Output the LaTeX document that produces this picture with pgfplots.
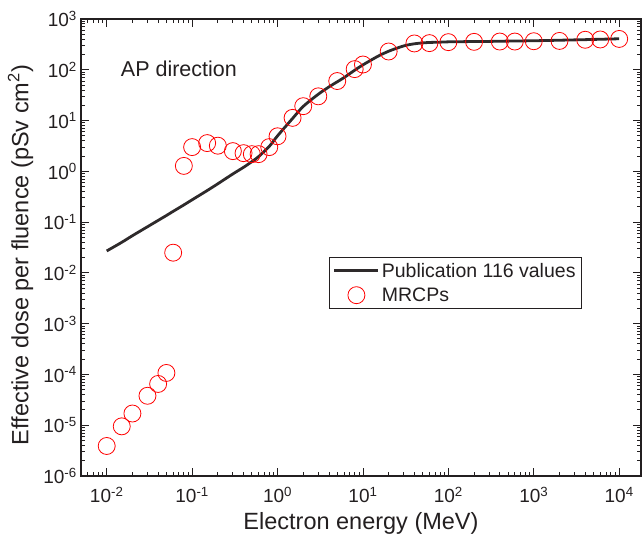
\documentclass[border=0pt]{standalone}
\usepackage{fontspec}
\setmainfont{Liberation Sans}
\usepackage{pgfplots}
\pgfplotsset{compat=1.18}
\definecolor{txt}{HTML}{231F20}
\pgfplotsset{
  lineleg/.style={legend image code/.code={\draw[##1] (0cm,0cm) -- (1.55cm,0cm);}},
  markleg/.style={legend image code/.code={\draw[mark repeat=1,mark phase=1,##1] plot coordinates {(0.775cm,0cm)};}},
}
\begin{document}
\begin{tikzpicture}
\begin{axis}[
  scale only axis, width=560pt, height=457pt,
  xmode=log, ymode=log, log basis x=10, log basis y=10,
  xmin=5e-3, xmax=1.8e4, ymin=1e-6, ymax=1e3,
  xtick={1e-2,1e-1,1,10,100,1000,10000},
  ytick={1e-6,1e-5,1e-4,1e-3,1e-2,1e-1,1,10,100,1000},
  minor xtick={0.006,0.007,0.008,0.009,
    0.02,0.03,0.04,0.05,0.06,0.07,0.08,0.09,
    0.2,0.3,0.4,0.5,0.6,0.7,0.8,0.9,
    2,3,4,5,6,7,8,9,20,30,40,50,60,70,80,90,
    200,300,400,500,600,700,800,900,2000,3000,4000,5000,6000,7000,8000,9000},
  minor ytick={2e-6,3e-6,4e-6,5e-6,6e-6,7e-6,8e-6,9e-6,
    2e-5,3e-5,4e-5,5e-5,6e-5,7e-5,8e-5,9e-5,
    2e-4,3e-4,4e-4,5e-4,6e-4,7e-4,8e-4,9e-4,
    2e-3,3e-3,4e-3,5e-3,6e-3,7e-3,8e-3,9e-3,
    0.02,0.03,0.04,0.05,0.06,0.07,0.08,0.09,
    0.2,0.3,0.4,0.5,0.6,0.7,0.8,0.9,
    2,3,4,5,6,7,8,9,20,30,40,50,60,70,80,90,
    200,300,400,500,600,700,800,900},
  xticklabel={\pgfmathtruncatemacro\e{round(\tick)}10\textsuperscript{\e}},
  yticklabel={\pgfmathtruncatemacro\e{round(\tick)}10\textsuperscript{\e}},
  tick label style={font=\fontsize{19}{22}\selectfont, color=txt},
  xticklabel style={anchor=base, yshift=-27pt},
  yticklabel style={inner sep=2pt, xshift=-2pt},
  xlabel={Electron energy (MeV)},
  ylabel={Effective dose per fluence (pSv cm\textsuperscript{2})},
  xlabel style={font=\fontsize{23.5}{26}\selectfont, color=txt,
    at={(axis description cs:0.5,-0.118)}, anchor=base},
  ylabel style={font=\fontsize{23.5}{26}\selectfont, color=txt,
    at={(axis description cs:-0.108,0.4836)}, anchor=center, rotate=0},
  major tick length=8pt, minor tick length=4pt,
  axis line style={line width=1.3pt, color=txt},
  every tick/.style={line width=0.9pt, color=txt},
  legend style={at={(0.443,0.479)}, anchor=north west, draw=txt, line width=0.8pt,
    font=\fontsize{19.5}{22}\selectfont, text=txt, inner sep=3.5pt,
    nodes={inner sep=2pt}, row sep=5pt},
  legend cell align=left,
]
\addplot[line width=2.8pt, color=txt!95, smooth, lineleg]
coordinates {
(0.01,0.027) (0.015,0.040) (0.02,0.054) (0.03,0.081) (0.04,0.108) (0.05,0.135)
(0.06,0.163) (0.08,0.218) (0.1,0.275) (0.15,0.418) (0.2,0.569) (0.3,0.889)
(0.4,1.2) (0.5,1.55) (0.6,1.95) (0.8,3.1) (1,5.0) (1.5,11) (2,19) (3,33)
(4,46) (5,58) (6,70) (8,98) (10,125) (15,185) (20,232) (30,295) (40,325)
(50,338) (60,345) (80,350) (100,355) (150,358) (200,360) (300,362) (400,365)
(500,367) (600,368) (800,371) (1000,373) (1500,378) (2000,382) (3000,388)
(4000,392) (5000,396) (6000,399) (8000,404) (10000,408)
};
\addlegendentry{Publication 116 values}
\addplot[only marks, mark=o, mark size=8.5pt, color=red, mark options={line width=0.8pt}, markleg]
coordinates {
(0.01,3.9e-6) (0.015,9.5e-6) (0.02,1.7e-5) (0.03,3.8e-5) (0.04,6.5e-5) (0.05,1.07e-4)
(0.06,0.025) (0.08,1.28) (0.1,3.0) (0.15,3.6) (0.2,3.2) (0.3,2.5) (0.4,2.28)
(0.5,2.18) (0.6,2.18) (0.8,3.0) (1,4.9) (1.5,11.3) (2,19.2) (3,30) (5,60) (8,103)
(10,127) (20,229) (40,330) (60,335) (100,350) (200,355) (400,360) (600,360)
(1000,365) (2000,370) (4000,390) (6000,395) (10000,405)
};
\addlegendentry{MRCPs}
\node[anchor=base west, inner sep=0pt, font=\fontsize{21.5}{24}\selectfont, text=txt] at (axis cs:0.0146,72.8) {AP direction};
\coordinate (sw) at (rel axis cs:0,0);
\coordinate (ne) at (rel axis cs:1,1);
\end{axis}
\pgfresetboundingbox
\path ([shift={(-81pt,-60pt)}]sw) rectangle ([shift={(2pt,19pt)}]ne);
\end{tikzpicture}
\end{document}
